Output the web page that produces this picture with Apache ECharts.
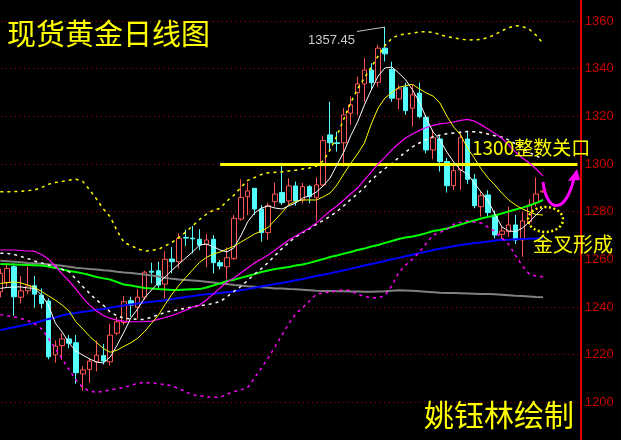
<!DOCTYPE html>
<html><head><meta charset="utf-8">
<script src="https://cdn.jsdelivr.net/npm/echarts@6/dist/echarts.min.js"></script>
<style>html,body{margin:0;padding:0;background:#000;}#c{width:621px;height:440px;}</style>
</head><body><div id="c"></div>
<script>
const categories = ['1','2','3','4','5','6','7','8','9','10','11','12','13','14','15','16','17','18','19','20','21','22','23','24','25','26','27','28','29','30','31','32','33','34','35','36','37','38','39','40','41','42','43','44','45','46','47','48','49','50','51','52','53','54','55','56','57','58','59','60','61','62','63','64','65','66','67','68','69','70','71','72','73','74','75','76','77','78','79','80','81','82','83','84','85'];

const openP = [1246.4,1250.2,1256.9,1244.1,1246.8,1248.9,1245.0,1242.5,1219.9,1223.8,
1226.6,1225.0,1211.9,1213.8,1217.0,1219.6,1217.0,1229.0,1233.5,1242.6,
1239.9,1244.1,1255.0,1255.2,1249.6,1260.1,1259.0,1269.2,1268.9,1268.4,
1266.3,1268.4,1258.6,1256.9,1260.4,1276.9,1286.3,1289.8,1281.1,1271.2,
1284.2,1288.0,1284.5,1290.8,1284.9,1290.5,1286.0,1291.2,1312.2,1308.9,
1308.9,1321.3,1329.9,1333.6,1339.4,1334.3,1348.6,1339.7,1327.3,1332.2,
1323.4,1329.7,1319.6,1305.9,1310.5,1301.0,1290.9,1297.5,1310.5,1293.6,
1282.1,1287.0,1278.6,1270.5,1271.6,1274.4,1268.1,1275.8,1283.8,1288.3];
const closeP = [1254.1,1256.2,1244.3,1246.8,1248.8,1245.4,1241.5,1219.1,1223.6,1226.6,
1224.8,1212.4,1213.6,1217.3,1219.8,1217.3,1228.2,1233.8,1242.2,1240.8,
1244.1,1254.6,1254.6,1249.2,1260.0,1259.0,1268.8,1268.9,1268.6,1266.0,
1268.1,1258.6,1257.2,1260.7,1277.2,1286.0,1288.7,1281.1,1271.2,1282.5,
1287.4,1283.8,1290.8,1284.5,1290.5,1286.3,1291.2,1309.8,1308.9,1308.6,
1320.6,1324.8,1333.6,1339.4,1334.1,1348.6,1346.2,1327.6,1331.5,1322.4,
1329.0,1319.9,1305.9,1311.0,1301.0,1290.9,1297.2,1311.0,1293.6,1282.5,
1286.7,1279.6,1270.2,1271.9,1274.4,1268.1,1276.1,1282.8,1287.4,1288.6];
const lowP = [1244.0,1248.0,1236.3,1241.5,1245.5,1239.7,1239.4,1218.0,1216.6,1217.8,
1222.7,1207.8,1204.9,1208.2,1213.0,1215.9,1215.4,1228.2,1232.4,1235.9,
1235.2,1242.9,1249.9,1248.0,1243.6,1254.1,1256.2,1265.6,1262.5,1263.9,
1256.7,1254.1,1255.8,1251.6,1259.7,1276.2,1278.6,1278.6,1267.4,1268.1,
1282.1,1282.8,1282.8,1282.5,1283.5,1283.5,1276.1,1290.5,1305.2,1305.2,
1298.9,1316.4,1320.6,1326.1,1331.3,1332.4,1343.0,1326.1,1323.0,1320.6,
1315.7,1319.2,1304.5,1302.0,1296.8,1288.0,1289.1,1289.1,1291.6,1281.4,
1277.9,1277.9,1268.8,1268.1,1269.5,1266.4,1261.1,1274.4,1282.1,1288.0];
const highP = [1256.0,1258.3,1258.3,1253.0,1256.9,1253.0,1247.8,1243.6,1226.0,1229.0,
1228.2,1228.2,1215.2,1218.5,1225.9,1224.5,1232.9,1235.9,1244.6,1244.3,
1247.4,1255.2,1258.6,1259.0,1263.4,1265.1,1270.9,1272.5,1274.0,1272.6,
1270.5,1270.2,1259.7,1265.0,1278.6,1293.6,1292.2,1289.9,1282.8,1283.8,
1292.2,1300.5,1294.0,1292.6,1292.0,1291.2,1294.4,1311.8,1326.1,1313.6,
1323.4,1328.3,1336.6,1344.4,1342.3,1349.9,1357.45,1342.9,1333.2,1334.1,
1333.2,1334.1,1320.6,1314.3,1312.2,1302.5,1299.5,1312.9,1313.6,1295.8,
1288.4,1289.0,1280.5,1273.7,1282.1,1278.6,1280.0,1285.2,1294.3,1289.0];

const ma5 = [1247.8,1248.2,1248.4,1248.4,1248.0,1247.8,1245.0,1240.8,1233.3,1229.5,
1224.9,1221.5,1219.8,1218.2,1216.9,1216.5,1219.0,1224.0,1229.5,1235.4,
1239.2,1243.8,1247.1,1250.1,1252.6,1255.5,1258.0,1260.6,1263.1,1266.0,
1266.4,1265.3,1263.9,1263.1,1264.8,1269.8,1275.7,1279.4,1281.5,1282.4,
1281.5,1281.1,1282.4,1283.6,1285.7,1286.6,1288.2,1290.8,1294.1,1299.6,
1305.0,1311.8,1317.6,1324.8,1331.1,1336.9,1340.3,1340.7,1338.2,1335.3,
1331.1,1326.0,1319.3,1313.4,1310.1,1305.0,1300.8,1297.5,1295.8,1292.0,
1288.2,1284.5,1279.0,1273.6,1271.9,1271.6,1273.1,1275.7,1278.6,1281.5];
const ma10 = [1249.9,1250.2,1250.5,1250.1,1249.2,1248.2,1246.5,1244.7,1242.9,1240.8,
1238.3,1233.8,1230.8,1227.7,1225.1,1222.6,1221.0,1221.9,1223.5,1225.0,
1226.9,1229.7,1233.1,1236.6,1241.1,1245.4,1249.1,1252.4,1255.6,1258.7,
1260.8,1262.2,1263.1,1264.3,1265.5,1267.2,1268.9,1270.6,1271.9,1273.4,
1276.5,1279.6,1283.0,1284.3,1284.9,1284.9,1284.9,1286.2,1287.8,1291.2,
1295.8,1300.2,1304.2,1308.8,1316.8,1323.5,1327.7,1330.0,1332.1,1332.9,
1333.4,1331.5,1329.8,1328.5,1325.6,1320.1,1315.5,1312.2,1306.7,1302.5,
1297.9,1294.1,1291.2,1287.8,1284.9,1282.8,1281.1,1279.9,1278.8,1278.6];
const ma20 = [1263.9,1263.9,1263.9,1263.7,1263.5,1263.3,1262.0,1260.1,1257.2,1253.8,
1250.9,1247.5,1243.8,1240.8,1238.3,1236.4,1235.2,1234.5,1234.1,1233.8,
1233.8,1233.9,1234.1,1234.8,1235.6,1236.4,1237.5,1238.7,1240.0,1240.8,
1242.9,1245.4,1248.0,1250.5,1252.2,1254.3,1256.4,1258.5,1260.1,1261.8,
1263.9,1266.0,1268.1,1269.8,1271.5,1273.1,1275.2,1277.8,1280.3,1282.4,
1284.9,1287.4,1289.9,1293.3,1296.6,1300.0,1302.9,1305.9,1308.6,1310.9,
1312.6,1314.1,1315.3,1316.2,1316.8,1317.2,1317.6,1318.3,1318.7,1318.0,
1316.4,1314.7,1312.8,1310.9,1308.0,1305.0,1302.5,1300.4,1297.9,1295.0];
const ma60 = [1258.0,1257.9,1257.8,1257.7,1257.6,1257.5,1257.4,1257.0,1256.4,1255.7,
1255.1,1254.7,1254.1,1253.4,1252.6,1252.0,1251.5,1250.5,1249.4,1249.0,
1248.5,1248.0,1247.8,1247.5,1247.3,1247.1,1247.1,1247.3,1247.4,1247.5,
1248.2,1249.0,1249.9,1250.9,1251.4,1252.2,1253.0,1253.8,1254.7,1255.3,
1255.9,1256.4,1256.8,1257.4,1257.8,1258.5,1259.3,1260.1,1261.0,1261.6,
1262.4,1263.1,1263.9,1264.5,1265.4,1266.0,1266.9,1267.7,1268.5,1269.2,
1269.6,1270.2,1271.0,1271.9,1272.3,1272.9,1273.8,1274.6,1275.5,1276.3,
1277.1,1277.8,1278.4,1279.2,1280.1,1280.9,1281.7,1282.6,1283.6,1284.9];
const ma120 = [1230.3,1231.0,1231.5,1232.1,1232.7,1233.3,1234.1,1235.0,1235.6,1236.4,
1237.1,1237.5,1238.0,1238.3,1238.8,1239.2,1239.7,1240.2,1240.6,1241.1,
1241.5,1241.9,1242.2,1242.5,1242.8,1243.3,1243.8,1244.2,1244.6,1245.0,
1245.3,1245.6,1245.9,1246.2,1246.5,1247.0,1247.5,1248.1,1248.6,1249.1,
1249.6,1250.1,1250.6,1251.2,1251.7,1252.4,1253.0,1253.5,1254.1,1254.8,
1255.4,1256.1,1256.7,1257.4,1258.0,1258.7,1259.3,1260.0,1260.6,1261.3,
1261.9,1262.6,1263.2,1263.9,1264.4,1265.0,1265.5,1266.0,1266.4,1266.8,
1267.1,1267.5,1267.9,1268.1,1268.2,1268.4,1268.5,1268.6,1268.7,1268.8];
const ma250 = [1259.4,1259.2,1259.0,1258.8,1258.5,1258.3,1258.1,1257.9,1257.6,1257.3,
1256.9,1256.5,1256.2,1255.9,1255.7,1255.4,1255.2,1254.8,1254.5,1254.3,
1253.9,1253.6,1253.2,1252.8,1252.3,1251.8,1251.5,1251.3,1251.1,1250.9,
1250.6,1250.3,1249.9,1249.6,1249.2,1249.0,1248.7,1248.5,1248.3,1248.1,
1247.8,1247.8,1247.5,1247.4,1247.2,1247.0,1246.8,1246.7,1246.7,1246.6,
1246.6,1246.5,1246.5,1246.4,1246.4,1246.5,1246.6,1246.8,1247.0,1246.9,
1246.8,1246.6,1246.4,1246.2,1246.0,1245.9,1245.9,1245.8,1245.7,1245.6,
1245.5,1245.4,1245.3,1245.1,1244.9,1244.7,1244.6,1244.4,1244.2,1244.1];
const bollUpper = [1288.4,1288.4,1288.4,1288.5,1288.8,1289.1,1290.1,1291.5,1292.2,1292.7,
1293.2,1293.6,1292.7,1289.1,1285.3,1281.1,1277.8,1271.9,1267.1,1265.8,
1264.4,1263.5,1263.7,1264.2,1265.6,1267.1,1269.2,1271.5,1274.0,1276.7,
1278.9,1280.6,1281.4,1284.5,1286.9,1290.1,1293.1,1294.3,1295.6,1296.3,
1296.5,1296.7,1297.1,1297.4,1297.9,1298.3,1299.1,1301.3,1305.9,1311.8,
1318.9,1325.6,1331.5,1336.1,1340.7,1345.3,1349.7,1352.7,1354.1,1354.5,
1354.9,1355.4,1355.5,1355.2,1354.3,1353.4,1352.9,1352.4,1352.0,1352.1,
1352.3,1353.0,1354.3,1355.8,1357.2,1358.0,1357.7,1356.5,1354.0,1350.6];
const bollMid = [1262.5,1262.5,1262.0,1261.2,1260.3,1259.3,1258.5,1257.6,1256.9,1255.8,
1254.8,1251.8,1248.6,1245.7,1242.9,1240.7,1237.9,1236.3,1235.3,1235.0,
1234.8,1234.8,1235.7,1236.7,1237.8,1238.4,1238.9,1239.5,1240.0,1240.5,
1240.9,1241.5,1242.3,1244.3,1246.5,1248.6,1251.1,1253.8,1256.1,1258.7,
1261.6,1264.5,1267.1,1269.4,1271.2,1272.9,1274.7,1276.3,1278.0,1280.1,
1282.5,1285.1,1287.5,1290.1,1293.3,1295.8,1298.1,1300.2,1302.7,1305.0,
1307.2,1308.8,1310.2,1311.5,1312.1,1312.7,1313.0,1313.3,1313.6,1313.5,
1313.2,1312.6,1311.8,1311.3,1310.1,1308.4,1306.5,1304.8,1303.4,1302.1];
const bollLower = [1236.8,1236.3,1235.9,1235.2,1234.3,1233.0,1230.8,1226.9,1222.6,1218.2,
1213.7,1209.4,1206.3,1204.7,1204.2,1204.7,1205.2,1205.7,1206.3,1207.1,
1208.0,1208.3,1208.1,1207.9,1207.4,1206.9,1205.7,1204.4,1203.1,1202.8,
1202.3,1202.1,1202.1,1203.4,1204.5,1205.2,1206.2,1210.2,1214.4,1218.6,
1223.4,1228.2,1233.1,1237.1,1239.7,1242.5,1245.4,1246.0,1246.3,1246.7,
1247.2,1246.8,1245.4,1244.4,1243.9,1243.8,1244.8,1249.0,1254.5,1257.6,
1260.1,1263.0,1266.6,1270.2,1271.3,1272.5,1274.7,1275.5,1276.1,1275.7,
1275.2,1273.5,1271.7,1269.0,1266.3,1261.6,1257.2,1253.8,1253.0,1252.7];

const yTicks = [1200,1220,1240,1260,1280,1300,1320,1340,1360];
const keyLevel = 1300;
const peakIndex = 56;
const peakValue = 1357.45;
const lineStartIndex = 32;
const lineEndIndex = 84;

const candleData = openP.map((o, i) => [o, closeP[i], lowP[i], highP[i]]);

function lineSeries(name, data, color, width, type, z) {
  return {
    name, type: 'line', data, symbol: 'none', showSymbol: false, smooth: false,
    lineStyle: { color, width, type }, z, silent: true, animation: false
  };
}

const chart = echarts.init(document.getElementById('c'), null, { renderer: 'canvas' });
chart.setOption({
  backgroundColor: '#000000',
  animation: false,
  grid: { left: -3.1, right: 40.2, top: -26.7, bottom: -10, containLabel: false, outerBoundsMode: 'none' },
  xAxis: {
    type: 'category', data: categories, boundaryGap: true,
    axisLine: { show: false }, axisTick: { show: false }, axisLabel: { show: false }, splitLine: { show: false }
  },
  yAxis: {
    type: 'value', position: 'right', min: 1180, max: 1380, interval: 20,
    axisLine: { show: true, lineStyle: { color: '#e00000', width: 2 } },
    axisTick: { show: false },
    axisLabel: {
      show: true, color: '#c80000', fontSize: 13, fontFamily: 'Liberation Sans', margin: 4,
      formatter: v => (yTicks.indexOf(v) >= 0 ? String(v) : '')
    },
    splitLine: { show: true, lineStyle: { color: '#c00000', width: 1, type: [1, 3.5] } }
  },
  series: [
    {
      name: 'K', type: 'candlestick', data: candleData, barWidth: 5, z: 2,
      itemStyle: { color: '#000000', color0: '#54ffff', borderColor: '#ff5454', borderColor0: '#54ffff', borderWidth: 1 },
      markLine: {
        silent: true, symbol: ['none', 'none'], animation: false,
        label: { show: false },
        data: [
          [{ coord: [categories[lineStartIndex], keyLevel], lineStyle: { color: '#ffff00', width: 3, type: 'solid' } },
           { coord: [categories[lineEndIndex], keyLevel] }],
          [{ coord: [categories[peakIndex], peakValue], lineStyle: { color: '#c0c0c0', width: 1, type: 'solid' } },
           { x: 357, y: 31.5 }]
        ]
      }
    },
    lineSeries('MA250', ma250, '#808080', 2, 'solid', 3),
    lineSeries('MA120', ma120, '#0000ff', 2, 'solid', 3),
    lineSeries('MA60', ma60, '#00ff00', 2, 'solid', 3),
    lineSeries('BOLL-LOW', bollLower, '#ff00ff', 1.5, [3, 4], 4),
    lineSeries('BOLL-MID', bollMid, '#ffffff', 1.5, [3, 4], 4),
    lineSeries('BOLL-UP', bollUpper, '#ffff00', 1.5, [3, 4], 4),
    lineSeries('MA20', ma20, '#ff00ff', 1.2, 'solid', 5),
    lineSeries('MA10', ma10, '#ffff00', 1, 'solid', 5),
    lineSeries('MA5', ma5, '#ffffff', 1, 'solid', 6)
  ],
  graphic: { elements: [
    { type: 'text', x: 7, y: 34, z: 100, style: { text: '现货黄金日线图', fill: '#ffff00', fontSize: 29, fontFamily: 'Noto Sans CJK SC', align: 'left', verticalAlign: 'middle' } },
    { type: 'text', x: 355, y: 40, z: 100, style: { text: String(peakValue), fill: '#c8c8d0', fontSize: 13, fontFamily: 'Liberation Sans', align: 'right', verticalAlign: 'middle' } },
    { type: 'text', x: 472, y: 148, z: 100, style: { text: '1300整数关口', fill: '#ffff00', fontSize: 19, fontFamily: 'Noto Sans CJK SC', align: 'left', verticalAlign: 'middle' } },
    { type: 'text', x: 533, y: 244, z: 100, style: { text: '金叉形成', fill: '#ffff00', fontSize: 20, fontFamily: 'Noto Sans CJK SC', align: 'left', verticalAlign: 'middle' } },
    { type: 'text', x: 424, y: 415, z: 100, style: { text: '姚钰林绘制', fill: '#ffff00', fontSize: 30, fontFamily: 'Noto Sans CJK SC', align: 'left', verticalAlign: 'middle' } },
    { type: 'ellipse', z: 100, shape: { cx: 545.5, cy: 219.5, rx: 17.5, ry: 12.5 }, style: { fill: 'none', stroke: '#ffff00', lineWidth: 2.5, lineDash: [2, 2.5] } },
    { type: 'bezierCurve', z: 100, shape: { x1: 543, y1: 182, cpx1: 547, cpy1: 214, cpx2: 566, cpy2: 214, x2: 574, y2: 178 }, style: { fill: 'none', stroke: '#ff00ff', lineWidth: 3 } },
    { type: 'polygon', z: 100, shape: { points: [[568, 181], [580, 180], [577, 169]] }, style: { fill: '#ff00ff' } }
  ] }
});
</script>
</body></html>
